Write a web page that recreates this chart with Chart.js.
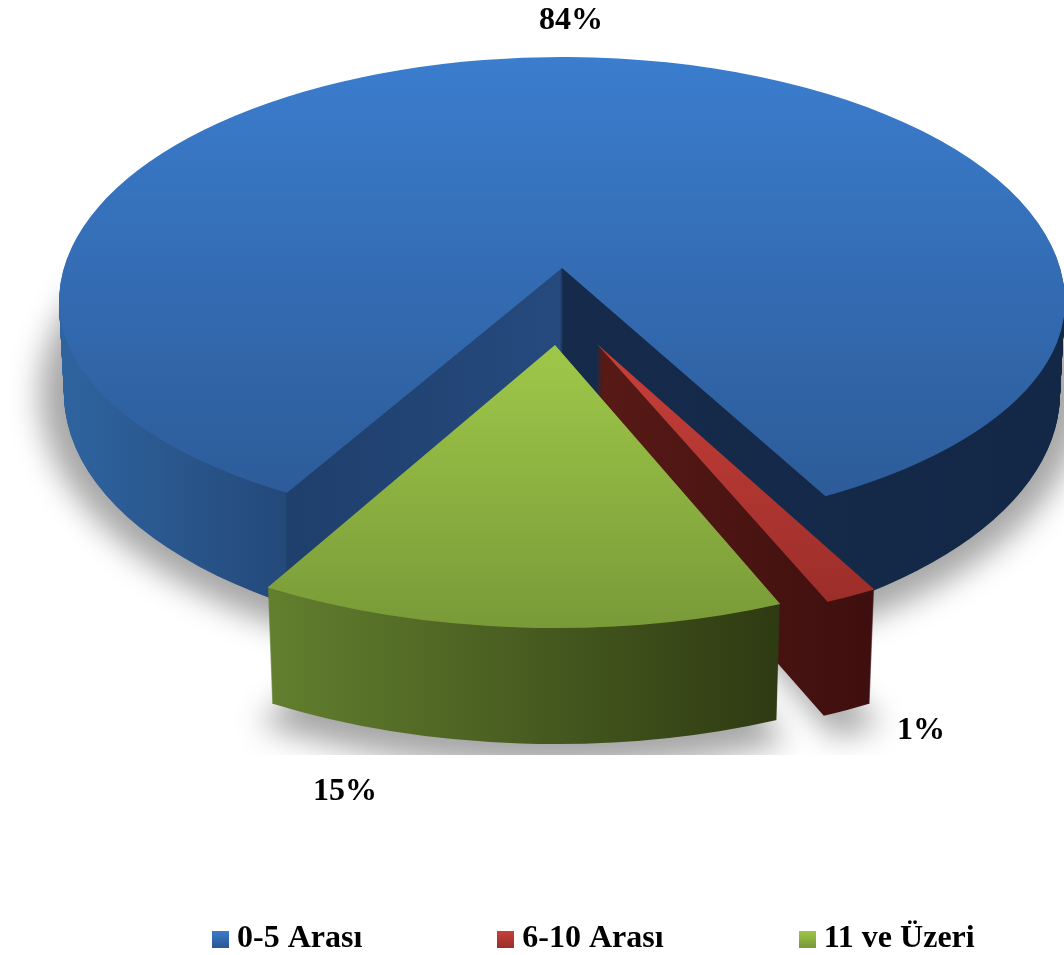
<!DOCTYPE html>
<html>
<head>
<meta charset="utf-8">
<style>
  html, body { margin: 0; padding: 0; background: #fff; overflow: hidden; }
  canvas { display: block; }
</style>
<script src="https://cdn.jsdelivr.net/npm/chart.js@4"></script>
</head>
<body>
<canvas id="chart" width="1064" height="955"></canvas>
<script>
const sliceNames = ["0-5 Arası", "6-10 Arası", "11 ve Üzeri"];
const sliceValues = [84, 1, 15];

const FONT = { family: "'Liberation Serif', serif", size: 32, weight: "bold" };
const SHADOW_SHIFT = 3000;

// how each wedge sits on the page (canvas has no perspective, so every slice gets its own ellipse)
const looks = [
  {
    ox: 562, oy: 268, rx: 503, down: 267, grow: 14, depth: 100, shrink: 0.01,
    from: 2, to: -4.9,
    // the big slice's rim is not centred on its tip, so it has a separate ellipse
    rim: { cy: 302, up: 245, down: 228, grow: 24, depth: 92 },
    top: [[57, "#3b7dce"], [540, "#2b5893"]],
    wall: [[60, "#2f649f"], [285, "#24497b"], [288, "#1f3f6c"], [560, "#264a7e"], [563, "#162b4b"], [1064, "#132847"]],
  },
  {
    ox: 597, oy: 344, rx: 558, down: 283, grow: 0, depth: 114, shrink: 0.016,
    from: -3.2, to: -1.4,
    top: [[344, "#c93f3a"], [600, "#9c2e2a"]],
    wall: [[597, "#581a16"], [870, "#3e0f0e"]],
  },
  {
    ox: 555, oy: 345, rx: 558, down: 283, grow: 0, depth: 116, shrink: 0.015,
    from: -0.8, to: 0,
    top: [[345, "#9fc849"], [630, "#799a38"]],
    wall: [[270, "#627f2e"], [780, "#2e3a12"]],
  },
];

const labelSpots = [[571, 29], [921, 739], [345, 800]];

function paintOne(ctx, ghost, x, y, a, b, paint) {
  ctx.translate(x, y);
  ctx.scale(a, b);
  ghost.options.backgroundColor = paint(ctx, x, y, a, b);
  ghost.draw(ctx);
}

function paintWedge(ctx, g, look, t, paint) {
  const W = ctx.canvas.width;
  const R = g.wedge.outerRadius;
  const tipY = look.oy + Math.round(t * look.depth);
  const a = (look.rx * (1 - t * look.shrink)) / R;
  const tipB = (look.down + t * look.grow) / R;

  if (!look.rim) {
    ctx.save();
    paintOne(ctx, g.wedge, look.ox, tipY, a, tipB, paint);
    ctx.restore();
    return;
  }

  const rimY = look.rim.cy + Math.round(t * look.rim.depth);
  const pieces = [
    { h: look.rim.up, y0: 0, y1: rimY + 1 },
    { h: look.rim.down + t * look.rim.grow, y0: rimY, y1: ctx.canvas.height },
  ];
  pieces.forEach((p) => {
    ctx.save();
    // cut the notch from the tip, then lay the rim ellipse inside it
    const base = ctx.getTransform();
    ctx.translate(look.ox, tipY);
    ctx.scale(a, tipB);
    ctx.beginPath();
    ctx.moveTo(0, 0);
    ctx.arc(0, 0, R * 1.6, g.wedge.startAngle, g.wedge.endAngle);
    ctx.closePath();
    ctx.setTransform(base);
    ctx.clip();
    ctx.beginPath();
    ctx.rect(0, p.y0, W, p.y1 - p.y0);
    ctx.clip();
    paintOne(ctx, g.rim, look.ox, rimY, a, p.h / R, paint);
    ctx.restore();
  });
}

// shadow only: the shape itself is drawn off the canvas, a little bigger than the foot of the pie
function paintShadow(ctx, g, look, spread) {
  const W = ctx.canvas.width;
  const R = g.wedge.outerRadius;
  const a = (look.rx * (1 - look.shrink) + spread) / R;
  const solid = () => "#000";
  if (!look.rim) {
    ctx.save();
    paintOne(ctx, g.wedge, look.ox - SHADOW_SHIFT, look.oy + look.depth, a, (look.down + look.grow + spread) / R, solid);
    ctx.restore();
    return;
  }
  const rimY = look.rim.cy + look.rim.depth;
  const pieces = [
    { h: look.rim.up + spread, y0: 0, y1: rimY },
    { h: look.rim.down + look.rim.grow + spread, y0: rimY, y1: ctx.canvas.height },
  ];
  pieces.forEach((p) => {
    ctx.save();
    ctx.beginPath();
    ctx.rect(0, p.y0, W, p.y1 - p.y0);
    ctx.clip();
    paintOne(ctx, g.rim, look.ox - SHADOW_SHIFT, rimY, a, p.h / R, solid);
    ctx.restore();
  });
}

const pie3d = {
  id: "pie3d",
  afterLayout(chart) {
    chart.legend.left = 77;
    chart.legend.right = 1500;
    chart.legend.top = 939 - 143 - 16;
  },
  beforeDatasetDraw(chart) {
    const ctx = chart.ctx;
    const Arc = Chart.registry.getElement("arc");
    const arcs = chart.getDatasetMeta(0).data;
    const rad = Math.PI / 180;
    const make = (arc, start, end) =>
      new Arc({
        x: 0, y: 0, startAngle: start, endAngle: end, circumference: end - start,
        innerRadius: 0, outerRadius: arc.outerRadius,
        options: { borderWidth: 0, borderRadius: 0, offset: 0, spacing: 0, circular: true, borderAlign: "center" },
      });
    const ghosts = arcs.map((arc, i) => {
      const start = arc.startAngle + looks[i].from * rad;
      const end = arc.endAngle + looks[i].to * rad;
      return {
        wedge: make(arc, start, end),
        rim: make(arc, start - 20 * rad, end + 20 * rad),
      };
    });

    const fillStops = (g, stops) => {
      const span = stops[stops.length - 1][0] - stops[0][0];
      stops.forEach((s) => g.addColorStop((s[0] - stops[0][0]) / span, s[1]));
      return g;
    };
    const vertical = (stops) => (c, x, y, a, b) =>
      fillStops(c.createLinearGradient(0, (stops[0][0] - y) / b, 0, (stops[stops.length - 1][0] - y) / b), stops);
    const horizontal = (stops) => (c, x, y, a) =>
      fillStops(c.createLinearGradient((stops[0][0] - x) / a, 0, (stops[stops.length - 1][0] - x) / a, 0), stops);

    // soft shadow round the foot of the pie, cut off flat at the bottom like the original
    ctx.save();
    ctx.beginPath();
    ctx.rect(0, 0, ctx.canvas.width, 755);
    ctx.clip();
    ctx.shadowColor = "rgba(0,0,0,0.35)";
    ctx.shadowBlur = 30;
    ctx.shadowOffsetX = SHADOW_SHIFT;
    ghosts.forEach((g, i) => paintShadow(ctx, g, looks[i], 24));
    ctx.restore();

    ghosts.forEach((g, i) => {
      const look = looks[i];
      const wall = horizontal(look.wall);
      for (let d = look.depth; d > 0; d--) {
        paintWedge(ctx, g, look, d / look.depth, wall);
      }
      paintWedge(ctx, g, look, 0, vertical(look.top));
    });
    return false;
  },
  afterDatasetsDraw(chart) {
    const ctx = chart.ctx;
    ctx.save();
    ctx.font = `${FONT.weight} ${FONT.size}px ${FONT.family}`;
    ctx.fillStyle = "#000";
    ctx.textAlign = "center";
    ctx.textBaseline = "alphabetic";
    sliceValues.forEach((v, i) => ctx.fillText(v + "%", labelSpots[i][0], labelSpots[i][1]));
    ctx.restore();
  },
};

function swatch(stops) {
  const c = document.createElement("canvas");
  c.width = 17;
  c.height = 17;
  const x = c.getContext("2d");
  const g = x.createLinearGradient(0, 0, 0, 17);
  g.addColorStop(0, stops[0][1]);
  g.addColorStop(1, stops[1][1]);
  x.fillStyle = g;
  x.fillRect(0, 0, 17, 17);
  return c;
}

new Chart(document.getElementById("chart"), {
  type: "pie",
  data: {
    labels: sliceNames,
    datasets: [{ data: sliceValues, backgroundColor: ["#3b7dce", "#c93f3a", "#9fc849"], borderWidth: 0 }],
  },
  plugins: [pie3d],
  options: {
    responsive: false,
    animation: false,
    devicePixelRatio: 1,
    rotation: 211,
    plugins: {
      tooltip: { enabled: false },
      legend: {
        position: "bottom",
        align: "start",
        labels: {
          usePointStyle: true,
          pointStyleWidth: 1,
          boxHeight: 17,
          padding: 143,
          color: "#000",
          font: FONT,
          generateLabels: () =>
            sliceNames.map((text, i) => ({
              text,
              fillStyle: "#000",
              strokeStyle: "transparent",
              lineWidth: 0,
              fontColor: "#000",
              pointStyle: swatch(looks[i].top),
              index: i,
            })),
        },
      },
    },
  },
});
</script>
</body>
</html>
